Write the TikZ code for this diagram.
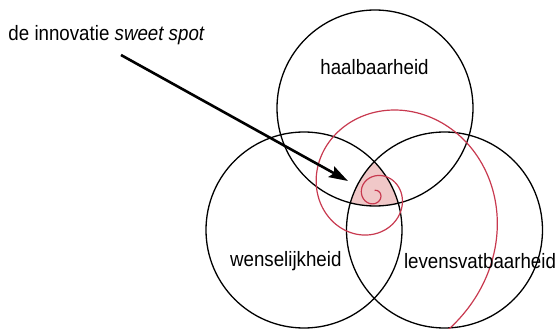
\documentclass[tikz,border=0pt]{standalone}
\usepackage{fontspec}
\setmainfont{Liberation Sans}[FakeStretch=0.9]
\usetikzlibrary{arrows.meta}
\definecolor{spiralred}{RGB}{200,57,79}
\definecolor{spotpink}{RGB}{240,200,200}
\tikzset{
  lbl/.style={inner sep=0pt, font=\fontsize{20.8}{24}\selectfont},
  venn/.style={draw=black, line width=1.3pt},
  spiral/.style={draw=spiralred, line width=1.2pt},
  pointer/.style={draw=black, line width=2.6pt, -{Stealth[length=19pt,width=12pt,inset=3pt]}}
}
\begin{document}
\begin{tikzpicture}[x=1pt,y=-1pt]
\useasboundingbox (0,0) rectangle (555,329);
\coordinate (ctop) at (375,108);
\coordinate (cleft) at (304,230);
\coordinate (cright) at (444.5,230);
\begin{scope}
  \clip (0,0) rectangle (555,329);
  % sweet spot
  \begin{scope}
    \clip (ctop) circle[radius=98pt];
    \clip (cleft) circle[radius=98pt];
    \fill[spotpink] (cright) circle[radius=98pt];
  \end{scope}
  \draw[venn] (ctop) circle[radius=98pt];
  \draw[venn] (cleft) circle[radius=98pt];
  \draw[venn] (cright) circle[radius=98pt];
  \draw[spiral] plot[domain=-90:795, samples=400, smooth, variable=\t]
    ({374.6 + 12.9*exp(0.2361*(\t/57.29578 - 3.14159))*cos(\t)},
     {194.7 + 12.9*exp(0.2361*(\t/57.29578 - 3.14159))*sin(\t)});
\end{scope}
\node[lbl, anchor=base west] (spot) at (8.3,40.7) {de innovatie \textit{sweet spot}};
\node[lbl, anchor=base] (haal) at (374.5,75) {haalbaarheid};
\node[lbl, anchor=base] (wens) at (285.8,266.7) {wenselijkheid};
\node[lbl, anchor=base] (lev) at (480,268.3) {levensvatbaarheid};
\coordinate (arrowstart) at (121,55);
\coordinate (sweetspot) at (348,181);
\draw[pointer] (arrowstart) -- (sweetspot);
\end{tikzpicture}
\end{document}
